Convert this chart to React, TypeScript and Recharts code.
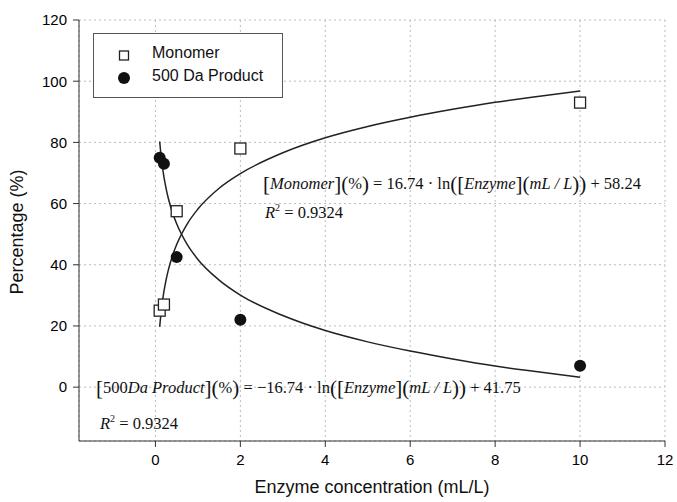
import React from 'react';
import { ComposedChart, Scatter, Line, XAxis, YAxis, CartesianGrid } from 'recharts';

// measured points
const enzymeConc = [0.1, 0.2, 0.5, 2, 10];
const monomerPct = [25, 27, 57.5, 78, 93];
const productPct = [75, 73, 42.5, 22, 7];

// fitted curves
const curveX = [0.1, 0.125, 0.15, 0.2, 0.25, 0.3, 0.4, 0.5, 0.75, 1, 1.5, 2, 3, 4, 5, 6, 7, 8, 9, 10];
const monomerFit = [19.7, 23.4, 26.5, 31.3, 35.0, 38.1, 42.9, 46.6, 53.4, 58.2, 65.0, 69.8, 76.6, 81.5, 85.2, 88.2, 90.8, 93.1, 95.0, 96.8];
const productFit = [80.3, 76.6, 73.5, 68.7, 65.0, 61.9, 57.1, 53.4, 46.6, 41.75, 35.0, 30.1, 23.4, 18.5, 14.8, 11.8, 9.2, 6.9, 5.0, 3.2];

const xTicks = [0, 2, 4, 6, 8, 10, 12];
const yTicks = [0, 20, 40, 60, 80, 100, 120];

const monomerPts = enzymeConc.map((x, i) => ({ x, y: monomerPct[i] }));
const productPts = enzymeConc.map((x, i) => ({ x, y: productPct[i] }));
const monomerLine = curveX.map((x, i) => ({ x, y: monomerFit[i] }));
const productLine = curveX.map((x, i) => ({ x, y: productFit[i] }));

const Square = (p: any) => (
  <rect x={p.cx - 5.5} y={p.cy - 5.5} width={11} height={11} fill="#fff" stroke="#222" strokeWidth={1.3} />
);
const Dot = (p: any) => <circle cx={p.cx} cy={p.cy} r={6} fill="#111" />;

const sans = 'Liberation Sans, Arial, sans-serif';
const serif = 'Liberation Serif, Times New Roman, serif';
const tickStyle = { fontFamily: sans, fontSize: 15, fill: '#000', stroke: 'none' };

const Eq = ({ left, top, parts }: { left: number; top: number; parts: React.ReactNode }) => (
  <div style={{ position: 'absolute', left, top, fontFamily: serif, fontSize: 16.5, color: '#111', whiteSpace: 'nowrap' }}>
    {parts}
  </div>
);
const Big = ({ c }: { c: string }) => <span style={{ fontSize: 21, verticalAlign: -2 }}>{c}</span>;
const I = ({ t }: { t: string }) => <i>{t}</i>;

export default function App() {
  return (
    <div style={{ position: 'absolute', left: 0, top: 0, width: 677, height: 502, background: '#fff' }}>
      <ComposedChart width={677} height={502} margin={{ top: 20, right: 12, left: 0, bottom: 0 }}>
        <CartesianGrid stroke="#bbb" strokeDasharray="2 3" />
        <XAxis
          dataKey="x"
          type="number"
          domain={[-1.8, 12]}
          ticks={xTicks}
          height={61}
          tickSize={6}
          tickMargin={7}
          stroke="#333"
          tick={tickStyle}
          allowDataOverflow
        />
        <XAxis xAxisId="top" orientation="top" type="number" domain={[-1.8, 12]} height={0} tick={false} tickLine={false} stroke="#333" />
        <YAxis
          dataKey="y"
          type="number"
          domain={[-17.6, 120]}
          ticks={yTicks}
          width={79}
          tickSize={6}
          tickMargin={6}
          stroke="#333"
          tick={tickStyle}
          allowDataOverflow
        />
        <YAxis yAxisId="right" orientation="right" domain={[-17.6, 120]} width={0} tick={false} tickLine={false} stroke="#333" />
        <Line data={monomerLine} dataKey="y" type="monotone" stroke="#222" strokeWidth={1.5} dot={false} isAnimationActive={false} />
        <Line data={productLine} dataKey="y" type="monotone" stroke="#222" strokeWidth={1.5} dot={false} isAnimationActive={false} />
        <Scatter data={monomerPts} dataKey="y" shape={Square} isAnimationActive={false} />
        <Scatter data={productPts} dataKey="y" shape={Dot} isAnimationActive={false} />
      </ComposedChart>

      <div style={{ position: 'absolute', left: 93, top: 33, width: 188, height: 63, border: '1px solid #555', background: '#fff', fontFamily: sans, fontSize: 16, color: '#111' }}>
        <svg style={{ position: 'absolute', left: 23, top: 14 }} width={14} height={40}>
          <rect x={2.5} y={3} width={9} height={9} fill="#fff" stroke="#222" strokeWidth={1.3} />
          <circle cx={7} cy={30} r={6} fill="#111" />
        </svg>
        <div style={{ position: 'absolute', left: 58, top: 10 }}>Monomer</div>
        <div style={{ position: 'absolute', left: 58, top: 33 }}>500 Da Product</div>
      </div>

      <Eq
        left={263}
        top={172}
        parts={<>
          <Big c="[" /><I t="Monomer" /><Big c="]" /><Big c="(" />%<Big c=")" /> = 16.74 · ln<Big c="(" /><Big c="[" /><I t="Enzyme" /><Big c="]" /><Big c="(" /><I t="mL / L" /><Big c=")" /><Big c=")" /> + 58.24
        </>}
      />
      <Eq left={265} top={202} parts={<><I t="R" /><sup style={{ fontSize: 10 }}>2</sup> = 0.9324</>} />
      <Eq
        left={96}
        top={376}
        parts={<>
          <Big c="[" />500<I t="Da Product" /><Big c="]" /><Big c="(" />%<Big c=")" /> = −16.74 · ln<Big c="(" /><Big c="[" /><I t="Enzyme" /><Big c="]" /><Big c="(" /><I t="mL / L" /><Big c=")" /><Big c=")" /> + 41.75
        </>}
      />
      <Eq left={100} top={413} parts={<><I t="R" /><sup style={{ fontSize: 10 }}>2</sup> = 0.9324</>} />

      <div style={{ position: 'absolute', left: 79, width: 586, top: 477, textAlign: 'center', fontFamily: sans, fontSize: 18, color: '#111' }}>
        Enzyme concentration (mL/L)
      </div>
      <div style={{ position: 'absolute', left: 17, top: 232, transform: 'translate(-50%, -50%) rotate(-90deg)', fontFamily: sans, fontSize: 18, color: '#111', whiteSpace: 'nowrap' }}>
        Percentage (%)
      </div>
    </div>
  );
}
